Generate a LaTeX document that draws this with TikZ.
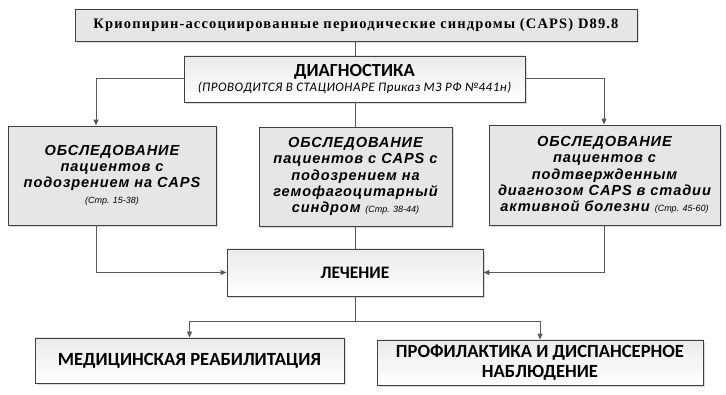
\documentclass[tikz,border=0pt]{standalone}
\usepackage{fontspec}
\setmainfont{Liberation Serif}
\newfontfamily\titlef[LetterSpace=8]{Liberation Serif}
\newfontfamily\arialsp[LetterSpace=6]{Liberation Sans}
\newfontfamily\arialf{Liberation Sans}
\newfontfamily\calf{Carlito}
\newfontfamily\calsp[LetterSpace=4]{Carlito}
\usetikzlibrary{shadows,arrows.meta,calc}
\definecolor{bordc}{HTML}{404040}
\definecolor{linec}{HTML}{595959}
\definecolor{boxg}{HTML}{E6E6E6}
\tikzset{
  box/.style={draw=bordc, line width=0.9pt, rectangle, inner sep=2pt, align=center,
     drop shadow={shadow xshift=2pt, shadow yshift=-2pt, fill=gray!35, opacity=0.8}},
  graybox/.style={box, fill=boxg},
  gradbox/.style={box, top color=gray!16, bottom color=white},
  conn/.style={draw=linec, line width=1pt},
  arr/.style={conn, -{Triangle[length=6pt,width=5pt]}},
  examtxt/.style={font=\arialsp\bfseries\itshape\fontsize{14.6}{16.2}\selectfont},
  bigtxt/.style={font=\calf\bfseries\fontsize{18.6}{20}\selectfont},
}
\newcommand{\pg}[1]{{\arialf\mdseries\itshape\fontsize{9}{10}\selectfont #1}}
\begin{document}
\begin{tikzpicture}[x=1pt,y=-1pt]
\useasboundingbox (0,0) rectangle (726,395);
\node[graybox, minimum width=562pt, minimum height=32pt] (title) at (356,25)
  {\titlef\bfseries\fontsize{14.5}{16}\selectfont Криопирин-ассоциированные периодические синдромы (CAPS) D89.8};
\node[gradbox, minimum width=341pt, minimum height=46pt] (diag) at (354.5,79)
  {{\calf\bfseries\fontsize{18.5}{19}\selectfont ДИАГНОСТИКА}\\[1pt]
   {\calsp\itshape\fontsize{13}{14}\selectfont (ПРОВОДИТСЯ В СТАЦИОНАРЕ Приказ МЗ РФ №441н)}};
\node[graybox, minimum width=208pt, minimum height=99pt, examtxt] (left) at (112,175.5)
  {ОБСЛЕДОВАНИЕ\\пациентов с\\подозрением на CAPS\\\pg{(Стр. 15-38)}};
\node[graybox, minimum width=193pt, minimum height=99pt, examtxt] (mid) at (355.5,176.5)
  {ОБСЛЕДОВАНИЕ\\пациентов с CAPS с\\подозрением на\\гемофагоцитарный\\синдром \pg{(Стр. 38-44)}};
\node[graybox, minimum width=231pt, minimum height=100pt, examtxt] (right) at (604.5,175)
  {ОБСЛЕДОВАНИЕ\\пациентов с\\подтвержденным\\диагнозом CAPS в стадии\\активной болезни \pg{(Стр. 45-60)}};
\node[gradbox, minimum width=256pt, minimum height=47pt, font=\calf\bfseries\fontsize{17.5}{19}\selectfont] (lech) at (355,272.5) {ЛЕЧЕНИЕ};
\node[gradbox, minimum width=309pt, minimum height=45pt, bigtxt] (bl) at (189.5,360.5) {МЕДИЦИНСКАЯ РЕАБИЛИТАЦИЯ};
\node[gradbox, minimum width=326pt, minimum height=45pt, bigtxt] (br) at (540,362.5) {ПРОФИЛАКТИКА И ДИСПАНСЕРНОЕ\\НАБЛЮДЕНИЕ};
\coordinate (xl) at (96,0);
\coordinate (xr) at (604,0);
\coordinate (xc) at (355,0);
\coordinate (yb) at (0,322);
\draw[conn] (title.south -| xc) -- (diag.north -| xc);
\draw[arr] (diag.west) -| (left.north -| xl);
\draw[arr] (diag.east) -| (right.north -| xr);
\draw[conn] (diag.south -| xc) -- (mid.north -| xc);
\draw[arr] (left.south -| xl) |- (lech.west);
\draw[arr] (right.south -| xr) |- (lech.east);
\draw[conn] (mid.south -| xc) -- (lech.north -| xc);
\draw[conn] (lech.south -| xc) -- (yb -| xc);
\draw[arr] (yb -| xc) -| (bl.north);
\draw[arr] (yb -| xc) -| (br.north);
\end{tikzpicture}
\end{document}
